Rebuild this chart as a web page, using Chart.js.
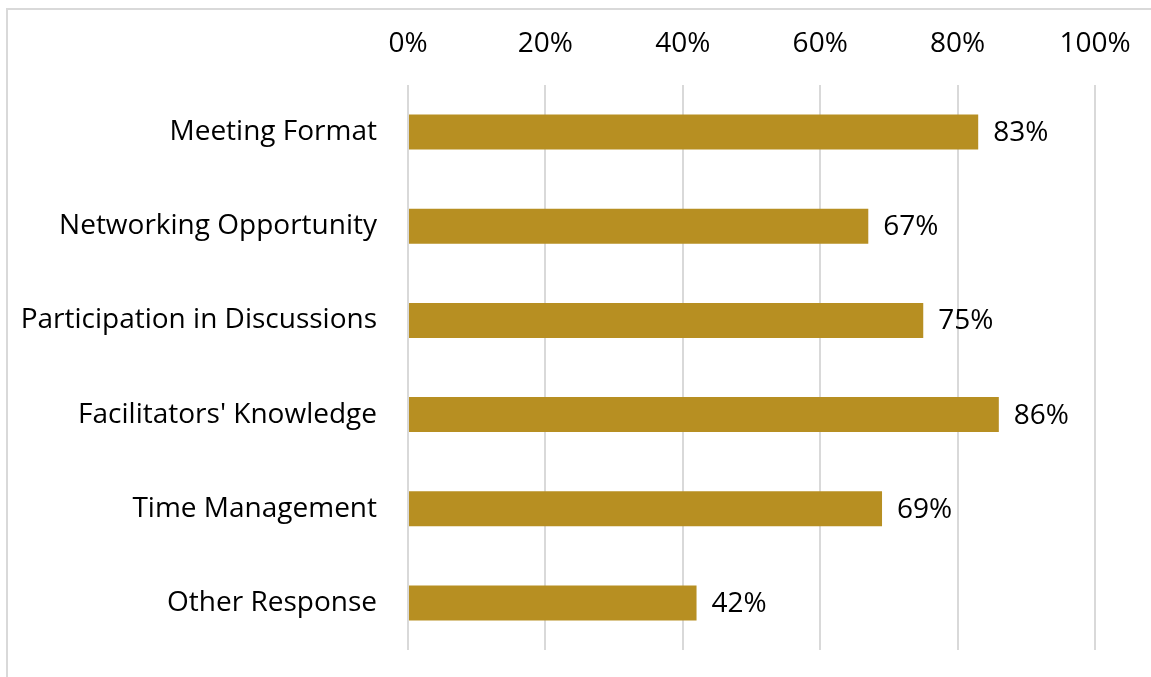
<!DOCTYPE html>
<html>
<head>
<meta charset="utf-8">
<script src="https://cdn.jsdelivr.net/npm/chart.js@4/dist/chart.umd.min.js"></script>
<style>
  html, body { margin: 0; padding: 0; background: #fff; overflow: hidden; }
  #wrap { position: relative; width: 1151px; height: 677px; }
  #frame { position: absolute; left: 6px; top: 8px; width: 1300px; height: 900px; border: 2px solid #d9d9d9; box-sizing: border-box; }
  canvas { position: absolute; left: 0; top: 0; }
</style>
</head>
<body>
<div id="wrap">
  <div id="frame"></div>
  <canvas id="c" width="1151" height="677"></canvas>
</div>
<script>
const categories = ["Meeting Format", "Networking Opportunity", "Participation in Discussions", "Facilitators' Knowledge", "Time Management", "Other Response"];
const values = [83, 67, 75, 86, 69, 42];
const tickValues = [0, 20, 40, 60, 80, 100];

const FONT = "'Open Sans', sans-serif";
const FSIZE = 28;

const valueLabels = {
  id: 'valueLabels',
  afterDatasetsDraw(chart) {
    const ctx = chart.ctx;
    const meta = chart.getDatasetMeta(0);
    ctx.save();
    ctx.font = FSIZE + "px " + FONT;
    ctx.fillStyle = '#000';
    ctx.textAlign = 'left';
    ctx.textBaseline = 'middle';
    meta.data.forEach((bar, i) => {
      ctx.fillText(values[i] + '%', bar.x + 15, bar.y + 1);
    });
    ctx.restore();
  }
};

new Chart(document.getElementById('c'), {
  type: 'bar',
  data: {
    labels: categories,
    datasets: [{
      data: values,
      backgroundColor: '#B78F22',
      borderWidth: 0,
      categoryPercentage: 1,
      barPercentage: 0.372
    }]
  },
  options: {
    indexAxis: 'y',
    responsive: false,
    animation: false,
    devicePixelRatio: 1,
    layout: { padding: { left: 0, right: 56, top: 0, bottom: 27 } },
    plugins: { legend: { display: false }, tooltip: { enabled: false } },
    scales: {
      x: {
        position: 'top',
        min: 0, max: 100,
        afterBuildTicks(scale) { scale.ticks = tickValues.map(v => ({ value: v })); },
        ticks: {
          callback: v => v + '%',
          color: '#000',
          font: { family: FONT, size: FSIZE },
          padding: 24,
          maxRotation: 0
        },
        grid: { color: '#d9d9d9', lineWidth: 2, drawTicks: false },
        border: { display: false },
        afterFit(scale) { scale.height = 85; scale.paddingLeft = 0; scale.paddingRight = 0; }
      },
      y: {
        ticks: {
          color: '#000',
          font: { family: FONT, size: FSIZE },
          padding: 31
        },
        grid: { display: false, drawTicks: false },
        border: { display: false },
        afterFit(scale) { scale.width = 408; scale.paddingTop = 0; scale.paddingBottom = 0; }
      }
    }
  },
  plugins: [valueLabels]
});
</script>
</body>
</html>
